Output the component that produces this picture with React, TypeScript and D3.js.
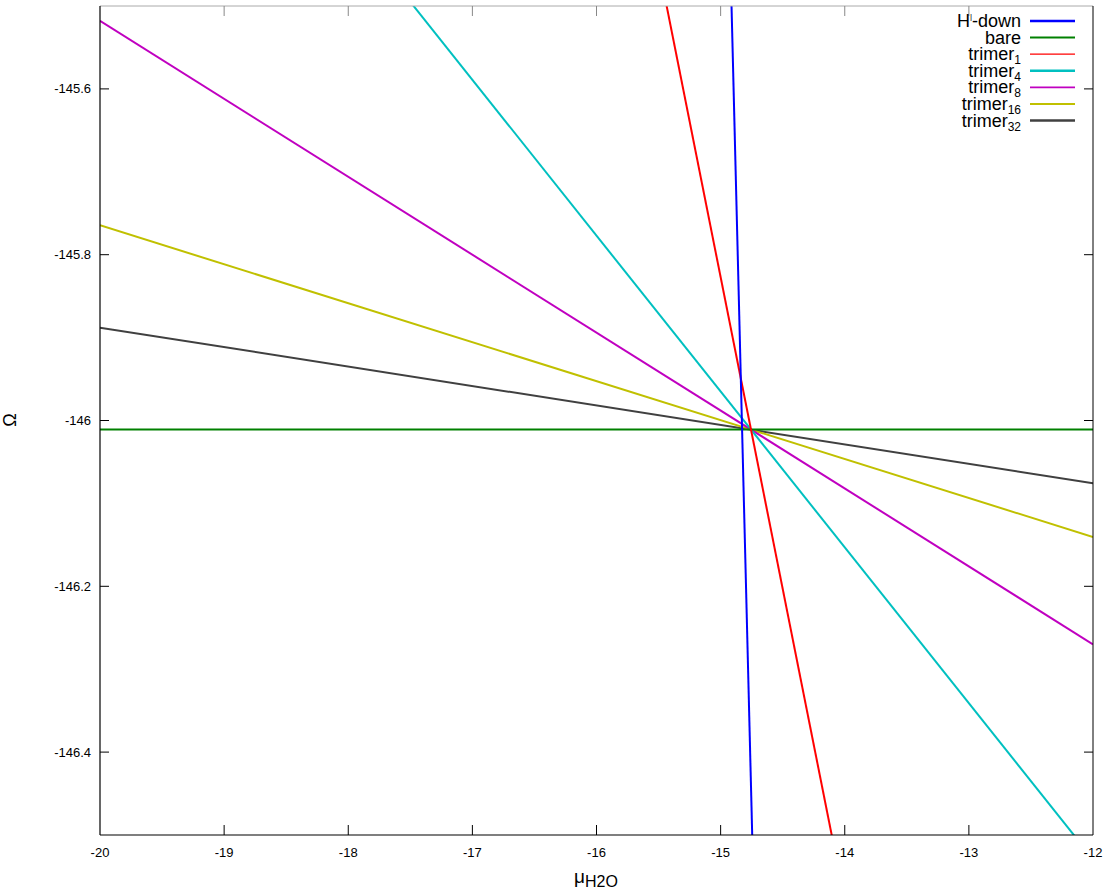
import React from "react";
import * as d3 from "d3";

const seriesNames = ["H-down", "bare", "trimer1", "trimer4", "trimer8", "trimer16", "trimer32"];
const legendBase = ["H", "bare", "trimer", "trimer", "trimer", "trimer", "trimer"];
const legendSub = ["", "", "1", "4", "8", "16", "32"];
const seriesColors = ["#0000ff", "#008000", "#ff0000", "#00c0c0", "#c000c0", "#c0c000", "#404040"];
const muEnds = [-20, -12];
// Omega values at mu = -20 and mu = -12 for each series
const omegaH = [-114.973, -162.973];
const omegaBare = [-146.011, -146.011];
const omegaT1 = [-142.067, -148.083];
const omegaT4 = [-145.025, -146.529];
const omegaT8 = [-145.518, -146.27];
const omegaT16 = [-145.7645, -146.1405];
const omegaT32 = [-145.888, -146.0757];
const seriesValues = [omegaH, omegaBare, omegaT1, omegaT4, omegaT8, omegaT16, omegaT32];
const xTicks = [-20, -19, -18, -17, -16, -15, -14, -13, -12];
const yTicks = [-145.6, -145.8, -146, -146.2, -146.4];

const W = 1120, H = 894;
const L = 100, R = 1093, T = 6, B = 835;
const legendWidths = [2.5, 2, 1.3, 2.5, 1.6, 2, 2.5];

export default function App() {
  const x = d3.scaleLinear().domain([-20, -12]).range([L, R]);
  const y = d3.scaleLinear().domain([-146.5, -145.5]).range([B, T]);
  const line = d3.line<[number, number]>().x((d) => x(d[0])).y((d) => y(d[1]));
  const font = "'Liberation Sans', Arial, sans-serif";
  const order = [6, 5, 4, 3, 1, 2, 0];
  return (
    <svg width={W} height={H} style={{ position: "absolute", left: 0, top: 0, background: "#fff" }} fontFamily={font}>
      <defs>
        <clipPath id="plotclip">
          <rect x={L} y={T} width={R - L} height={B - T} />
        </clipPath>
      </defs>
      <rect x={0} y={0} width={W} height={H} fill="#fff" />
      <g clipPath="url(#plotclip)">
        {order.map((i) => (
          <path
            key={seriesNames[i]}
            d={line(muEnds.map((m, k) => [m, seriesValues[i][k]] as [number, number])) || ""}
            stroke={seriesColors[i]}
            strokeWidth={2}
            fill="none"
          />
        ))}
      </g>
      <line x1={L} y1={T} x2={R} y2={T} stroke="#aaa" strokeWidth={1} />
      <line x1={R} y1={T} x2={R} y2={B} stroke="#000" strokeWidth={1} />
      <line x1={L} y1={T} x2={L} y2={B} stroke="#000" strokeWidth={1.2} />
      <line x1={L} y1={B} x2={R} y2={B} stroke="#000" strokeWidth={1.2} />
      {xTicks.map((t) => (
        <g key={"x" + t}>
          {t > -20 && t < -12 && (
            <>
              <line x1={x(t)} x2={x(t)} y1={B} y2={B - 10} stroke="#000" />
              <line x1={x(t)} x2={x(t)} y1={T} y2={T + 10} stroke="#888" />
            </>
          )}
          <text x={x(t)} y={857} fontSize={13} textAnchor="middle" fill="#000">
            {t}
          </text>
        </g>
      ))}
      {yTicks.map((t) => (
        <g key={"y" + t}>
          <line x1={L} x2={L + 9} y1={y(t)} y2={y(t)} stroke="#000" />
          <line x1={R} x2={R - 9} y1={y(t)} y2={y(t)} stroke="#000" />
          <text x={91} y={y(t) + 4.5} fontSize={13} textAnchor="end" fill="#000">
            {t}
          </text>
        </g>
      ))}
      <text x={16} y={420} fontSize={18} textAnchor="middle" transform="rotate(-90 16 420)" fill="#000">
        Ω
      </text>
      <text x={574} y={883} fontSize={19} fill="#000">
        μ
        <tspan fontSize={16} dy={4}>H2O</tspan>
      </text>
      {seriesNames.map((n, i) => {
        const ly = 21 + i * 16.6;
        return (
          <g key={"lg" + n}>
            <text x={1021} y={ly + 6} fontSize={18} textAnchor="end" fill="#000">
              {i === 0 ? (
                <>
                  H<tspan fontSize={8} dy={-8}>|</tspan>
                  <tspan dy={8}>-down</tspan>
                </>
              ) : (
                <>
                  {legendBase[i]}
                  {legendSub[i] && (
                    <tspan fontSize={12} dy={4}>
                      {legendSub[i]}
                    </tspan>
                  )}
                </>
              )}
            </text>
            <line x1={1030} x2={1075} y1={ly} y2={ly} stroke={seriesColors[i]} strokeWidth={legendWidths[i]} />
          </g>
        );
      })}
    </svg>
  );
}
